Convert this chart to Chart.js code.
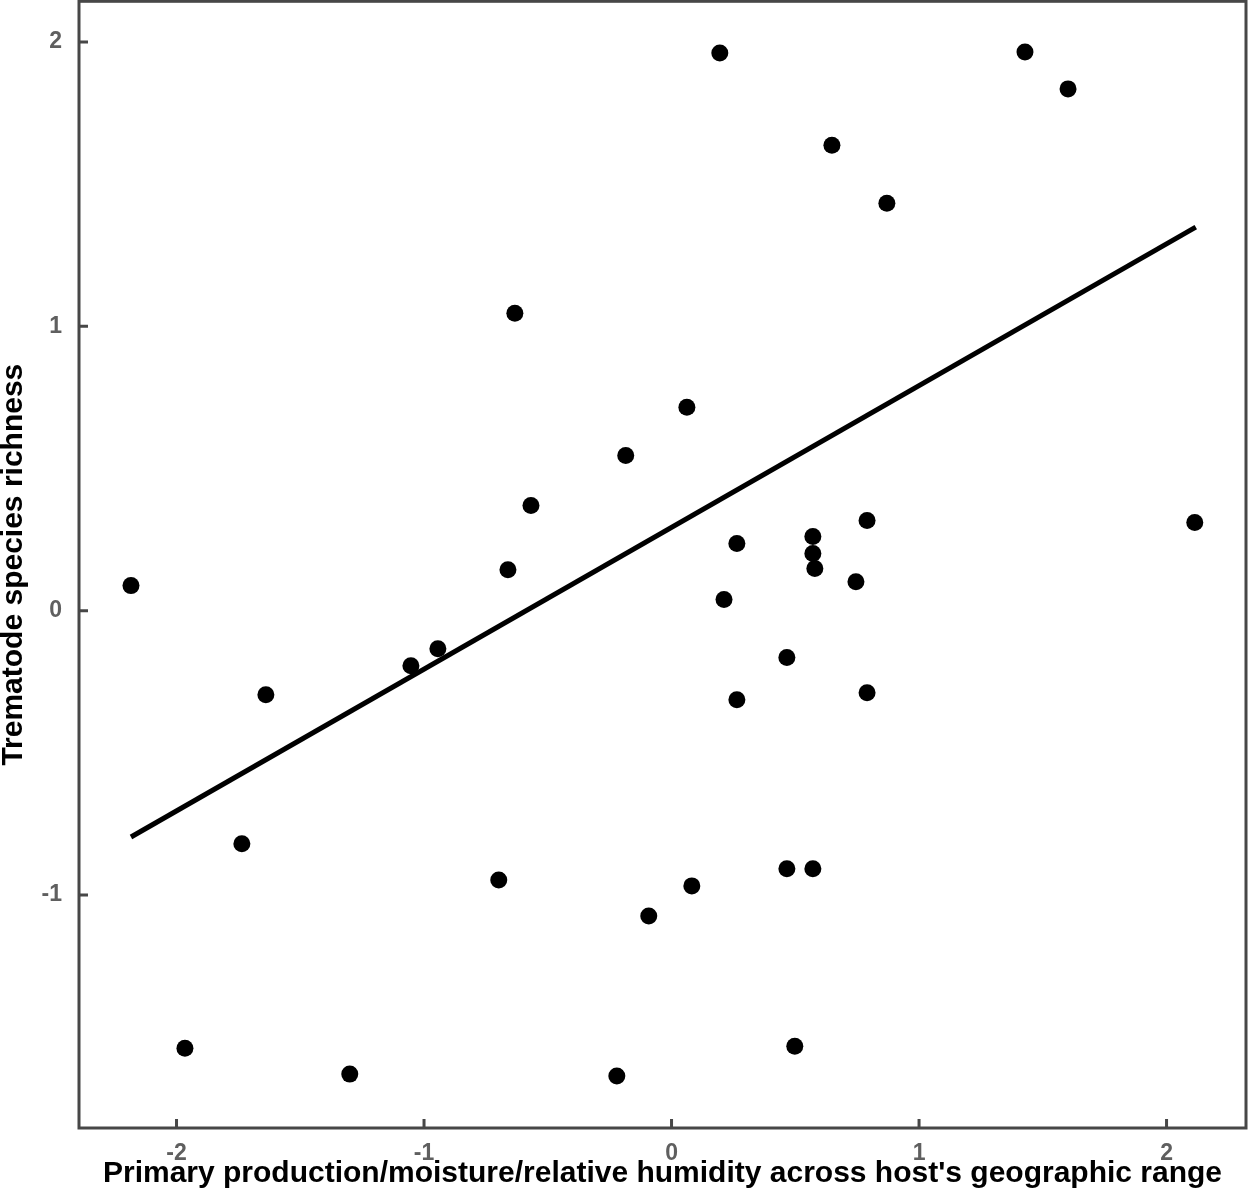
<!DOCTYPE html>
<html>
<head>
<meta charset="utf-8">
<script src="https://cdn.jsdelivr.net/npm/chart.js@4/dist/chart.umd.min.js"></script>
<style>
  html, body { margin: 0; padding: 0; background: #fff; }
  canvas { display: block; }
</style>
</head>
<body>
<canvas id="chart" width="1250" height="1194"></canvas>
<script>
// ── Data ───────────────────────────────────────────────────────────────────
var productionX = [
  -2.184, -1.966, -1.736, -1.639, -1.300, -1.053, -0.944, -0.698, -0.661, -0.633,
  -0.568, -0.221, -0.185, -0.092,  0.062,  0.082,  0.195,  0.212,  0.264,  0.264,
   0.466,  0.466,  0.498,  0.571,  0.571,  0.579,  0.571,  0.648,  0.745,  0.790,
   0.790,  0.870,  1.428,  1.602,  2.114
];
var richnessY = [
   0.088, -1.539, -0.820, -0.296, -1.630, -0.194, -0.134, -0.947,  0.144,  1.046,
   0.370, -1.637,  0.546, -1.074,  0.715, -0.968,  1.961,  0.039,  0.236, -0.313,
  -0.165, -0.908, -1.532,  0.261,  0.201,  0.148, -0.908,  1.637,  0.102,  0.317,
  -0.289,  1.433,  1.965,  1.835,  0.310
];
var fitX = [-2.184, 2.118];
var fitY = [-0.796, 1.349];
var xTicks = [-2, -1, 0, 1, 2];
var yTicks = [-1, 0, 1, 2];

var points = productionX.map(function(x, i) { return { x: x, y: richnessY[i] }; });
var fitLine = fitX.map(function(x, i) { return { x: x, y: fitY[i] }; });

var AXIS_COLOR = '#474747';
var LABEL_COLOR = '#5f5f5f';
var FONT = 'Liberation Sans, Arial, sans-serif';

// no automatic edge padding from tick labels
function noPad(s) {
  s.paddingTop = 0; s.paddingBottom = 0; s.paddingLeft = 0; s.paddingRight = 0;
}

// ── Frame + inward tick marks ──────────────────────────────────────────────
var framePlugin = {
  id: 'frame',
  afterDraw: function(chart) {
    var ctx = chart.ctx, a = chart.chartArea;
    var xs = chart.scales.x, ys = chart.scales.y;
    ctx.save();
    ctx.strokeStyle = AXIS_COLOR;
    ctx.lineWidth = 3;
    ctx.strokeRect(a.left, a.top, a.right - a.left, a.bottom - a.top);
    ctx.beginPath();
    xTicks.forEach(function(v) {
      var px = xs.getPixelForValue(v);
      ctx.moveTo(px, a.bottom);
      ctx.lineTo(px, a.bottom - 9);
    });
    yTicks.forEach(function(v) {
      var py = ys.getPixelForValue(v);
      ctx.moveTo(a.left, py);
      ctx.lineTo(a.left + 9, py);
    });
    ctx.stroke();
    ctx.restore();
  }
};

new Chart(document.getElementById('chart'), {
  type: 'scatter',
  data: {
    datasets: [
      {
        type: 'line',
        data: fitLine,
        borderColor: '#000',
        borderWidth: 5,
        pointRadius: 0,
        fill: false
      },
      {
        data: points,
        backgroundColor: '#000',
        borderWidth: 0,
        pointRadius: 8.5,
        pointHoverRadius: 8.5
      }
    ]
  },
  options: {
    responsive: false,
    devicePixelRatio: 1,
    animation: false,
    events: [],
    layout: { autoPadding: false, padding: { top: 1.3, right: 4, left: 0, bottom: 0 } },
    plugins: { legend: { display: false }, tooltip: { enabled: false } },
    scales: {
      x: {
        type: 'linear',
        min: -2.394,
        max: 2.321,
        afterBuildTicks: function(s) { s.ticks = xTicks.map(function(v) { return { value: v }; }); },
        afterFit: function(s) { s.height = 66; noPad(s); },
        grid: { display: false, drawTicks: false },
        border: { display: false },
        ticks: {
          padding: 12,
          color: LABEL_COLOR,
          font: { family: FONT, size: 23, weight: 'bold' }
        },
        title: {
          display: true,
          text: "Primary production/moisture/relative humidity across host's geographic range",
          color: '#000',
          padding: { top: 0, bottom: 7 },
          font: { family: FONT, size: 30, weight: 'bold', lineHeight: 0.9 }
        }
      },
      y: {
        type: 'linear',
        min: -1.8195,
        max: 2.143,
        afterBuildTicks: function(s) { s.ticks = yTicks.map(function(v) { return { value: v }; }); },
        afterFit: function(s) { s.width = 79; noPad(s); },
        grid: { display: false, drawTicks: false },
        border: { display: false },
        ticks: {
          padding: 17,
          color: LABEL_COLOR,
          font: { family: FONT, size: 23, weight: 'bold' }
        },
        title: {
          display: true,
          text: 'Trematode species richness',
          color: '#000',
          padding: 0,
          font: { family: FONT, size: 30, weight: 'bold', lineHeight: 0.9 }
        }
      }
    }
  },
  plugins: [framePlugin]
});
</script>
</body>
</html>
